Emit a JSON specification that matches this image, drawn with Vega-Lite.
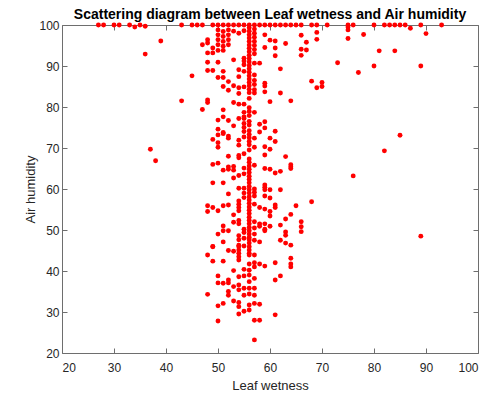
{
  "$schema": "https://vega.github.io/schema/vega-lite/v6.json",
  "autosize": "none",
  "width": 416,
  "height": 328,
  "padding": {"left": 62, "top": 25, "right": 18, "bottom": 45},
  "background": "white",
  "title": {"text": "Scattering diagram between Leaf wetness and Air humidity", "font": "Liberation Sans", "fontSize": 14, "fontWeight": "bold", "color": "#000000", "offset": -3, "anchor": "middle"},
  "datasets": {
    "pts": [
      {"x":27,"y":100},{"x":28,"y":100},{"x":30,"y":100},{"x":31,"y":100},{"x":33,"y":100},{"x":34,"y":99.5},{"x":35,"y":100},{"x":36,"y":99.7},{"x":36,"y":92.9},
      {"x":37,"y":69.7},{"x":38,"y":66.9},{"x":39,"y":96.1},{"x":43,"y":100},{"x":43,"y":81.5},{"x":45,"y":100},{"x":45,"y":87.6},{"x":46,"y":100},
      {"x":47,"y":100},{"x":47,"y":95.2},{"x":47,"y":79.4},
      {"x":48,"y":96.4},{"x":48,"y":95.6},{"x":48,"y":93.2},{"x":48,"y":90.9},{"x":48,"y":88.9},{"x":48,"y":81.7},{"x":48,"y":81.1},{"x":48,"y":55.9},{"x":48,"y":54.5},{"x":48,"y":43.9},{"x":48,"y":34.3},
      {"x":49,"y":100},{"x":49,"y":94.4},{"x":49,"y":93.2},{"x":49,"y":88.9},{"x":49,"y":72.1},{"x":49,"y":66.0},{"x":49,"y":61.5},{"x":49,"y":55.5},{"x":49,"y":46.0},{"x":49,"y":45.9},{"x":49,"y":42.4},
      {"x":50,"y":100},{"x":50,"y":98.8},{"x":50,"y":97.6},{"x":50,"y":96.4},{"x":50,"y":95.2},{"x":50,"y":93.8},{"x":50,"y":90.9},{"x":50,"y":87.2},{"x":50,"y":76.8},{"x":50,"y":74.6},{"x":50,"y":73.2},{"x":50,"y":71.3},{"x":50,"y":70.2},{"x":50,"y":66.3},{"x":50,"y":54.7},{"x":50,"y":49.0},{"x":50,"y":38.8},{"x":50,"y":37.1},{"x":50,"y":31.5},{"x":50,"y":27.8},
      {"x":51,"y":100},{"x":51,"y":98.4},{"x":51,"y":97.2},{"x":51,"y":96.0},{"x":51,"y":94.8},{"x":51,"y":93.8},{"x":51,"y":88.7},{"x":51,"y":87.2},{"x":51,"y":85.0},{"x":51,"y":79.3},{"x":51,"y":77.6},{"x":51,"y":73.8},{"x":51,"y":73.5},{"x":51,"y":64.6},{"x":51,"y":61.5},{"x":51,"y":55.9},{"x":51,"y":51.0},{"x":51,"y":49.8},{"x":51,"y":47.1},{"x":51,"y":42.4},{"x":51,"y":37.0},{"x":51,"y":32.1},
      {"x":52,"y":100},{"x":52,"y":98.8},{"x":52,"y":97.6},{"x":52,"y":96.4},{"x":52,"y":95.2},{"x":52,"y":86.2},{"x":52,"y":84.1},{"x":52,"y":76.7},{"x":52,"y":72.9},{"x":52,"y":72.4},{"x":52,"y":68.0},{"x":52,"y":65.4},{"x":52,"y":64.8},{"x":52,"y":58.8},{"x":52,"y":56.1},{"x":52,"y":49.8},{"x":52,"y":45.0},{"x":52,"y":37.8},{"x":52,"y":37.1},{"x":52,"y":35.0},{"x":52,"y":34.1},
      {"x":53,"y":100},{"x":53,"y":98.5},{"x":53,"y":91.5},{"x":53,"y":85.2},{"x":53,"y":81.1},{"x":53,"y":75.4},{"x":53,"y":65.5},{"x":53,"y":64.6},{"x":53,"y":62.7},{"x":53,"y":53.7},{"x":53,"y":51.9},{"x":53,"y":44.8},{"x":53,"y":40.1},{"x":53,"y":36.2},{"x":53,"y":32.7},
      {"x":54,"y":100},{"x":54,"y":98.0},{"x":54,"y":89.1},{"x":54,"y":87.4},{"x":54,"y":84.7},{"x":54,"y":83.3},{"x":54,"y":80.7},{"x":54,"y":77.2},{"x":54,"y":71.9},{"x":54,"y":70.7},{"x":54,"y":68.2},{"x":54,"y":67.6},{"x":54,"y":63.3},{"x":54,"y":60.2},{"x":54,"y":57.1},{"x":54,"y":56.3},{"x":54,"y":55.5},{"x":54,"y":54.7},{"x":54,"y":52.3},{"x":54,"y":51.5},{"x":54,"y":48.6},{"x":54,"y":47.6},{"x":54,"y":46.3},{"x":54,"y":45.9},{"x":54,"y":45.1},{"x":54,"y":44.3},{"x":54,"y":43.5},{"x":54,"y":42.7},{"x":54,"y":38.6},{"x":54,"y":36.6},{"x":54,"y":35.4},{"x":54,"y":32.3},{"x":54,"y":31.3},{"x":54,"y":29.5},
      {"x":55,"y":100},{"x":55,"y":98.6},{"x":55,"y":91.9},{"x":55,"y":91.2},{"x":55,"y":90.3},{"x":55,"y":88.7},{"x":55,"y":84.9},{"x":55,"y":80.7},{"x":55,"y":78.7},{"x":55,"y":77.6},{"x":55,"y":77.2},{"x":55,"y":76.0},{"x":55,"y":75.0},{"x":55,"y":74.0},{"x":55,"y":72.7},{"x":55,"y":68.6},{"x":55,"y":65.1},{"x":55,"y":63.7},{"x":55,"y":60.2},{"x":55,"y":59.0},{"x":55,"y":57.9},{"x":55,"y":50.2},{"x":55,"y":49.4},{"x":55,"y":48.0},{"x":55,"y":46.1},{"x":55,"y":40.4},{"x":55,"y":38.8},{"x":55,"y":35.8},{"x":55,"y":34.1},{"x":55,"y":30.2},
      {"x":56,"y":100},{"x":56,"y":99.3},{"x":56,"y":98.5},{"x":56,"y":97.6},{"x":56,"y":96.8},{"x":56,"y":96.0},{"x":56,"y":95.1},{"x":56,"y":94.3},{"x":56,"y":93.5},{"x":56,"y":92.6},{"x":56,"y":91.8},{"x":56,"y":91.0},{"x":56,"y":90.1},{"x":56,"y":89.3},{"x":56,"y":88.5},{"x":56,"y":87.6},{"x":56,"y":86.8},{"x":56,"y":86.0},{"x":56,"y":85.2},{"x":56,"y":84.3},{"x":56,"y":83.5},{"x":56,"y":82.1},{"x":56,"y":79.8},{"x":56,"y":78.9},{"x":56,"y":77.9},{"x":56,"y":76.5},{"x":56,"y":75.6},{"x":56,"y":74.2},{"x":56,"y":73.3},{"x":56,"y":72.5},{"x":56,"y":71.6},{"x":56,"y":70.8},{"x":56,"y":69.5},{"x":56,"y":67.3},{"x":56,"y":66.5},{"x":56,"y":65.6},{"x":56,"y":64.8},{"x":56,"y":64.0},{"x":56,"y":63.1},{"x":56,"y":62.3},{"x":56,"y":61.5},{"x":56,"y":60.6},{"x":56,"y":59.8},{"x":56,"y":59.0},{"x":56,"y":58.1},{"x":56,"y":57.3},{"x":56,"y":56.5},{"x":56,"y":55.6},{"x":56,"y":54.8},{"x":56,"y":54.0},{"x":56,"y":53.1},{"x":56,"y":52.3},{"x":56,"y":51.5},{"x":56,"y":50.6},{"x":56,"y":49.8},{"x":56,"y":49.0},{"x":56,"y":48.2},{"x":56,"y":47.6},{"x":56,"y":46.8},{"x":56,"y":45.9},{"x":56,"y":45.1},{"x":56,"y":44.3},{"x":56,"y":43.9},{"x":56,"y":41.7},{"x":56,"y":40.2},{"x":56,"y":39.0},{"x":56,"y":37.4},{"x":56,"y":35.8},{"x":56,"y":34.4},{"x":56,"y":31.7},{"x":56,"y":30.5},
      {"x":57,"y":100},{"x":57,"y":99.0},{"x":57,"y":98.0},{"x":57,"y":97.0},{"x":57,"y":96.0},{"x":57,"y":95.0},{"x":57,"y":94.0},{"x":57,"y":93.0},{"x":57,"y":90.7},{"x":57,"y":87.8},{"x":57,"y":86.5},{"x":57,"y":85.5},{"x":57,"y":84.2},{"x":57,"y":83.4},{"x":57,"y":78.7},{"x":57,"y":72.4},{"x":57,"y":70.2},{"x":57,"y":65.8},{"x":57,"y":60.0},{"x":57,"y":59.2},{"x":57,"y":58.3},{"x":57,"y":56.3},{"x":57,"y":52.0},{"x":57,"y":50.5},{"x":57,"y":49.0},{"x":57,"y":47.5},{"x":57,"y":43.9},{"x":57,"y":42.0},{"x":57,"y":41.0},{"x":57,"y":38.2},{"x":57,"y":35.8},{"x":57,"y":34.1},{"x":57,"y":32.1},{"x":57,"y":28.0},{"x":57,"y":23.2},
      {"x":58,"y":100},{"x":58,"y":90.7},{"x":58,"y":75.8},{"x":58,"y":73.9},{"x":58,"y":55.5},{"x":58,"y":51.5},{"x":58,"y":50.9},{"x":58,"y":47.1},{"x":58,"y":41.7},{"x":58,"y":31.9},{"x":58,"y":28.0},
      {"x":59,"y":100},{"x":59,"y":97.6},{"x":59,"y":94.5},{"x":59,"y":85.8},{"x":59,"y":85.1},{"x":59,"y":83.7},{"x":59,"y":76.4},{"x":59,"y":74.9},{"x":59,"y":70.3},{"x":59,"y":68.3},{"x":59,"y":65.0},{"x":59,"y":61.0},{"x":59,"y":60.4},{"x":59,"y":59.8},{"x":59,"y":58.3},{"x":59,"y":55.1},{"x":59,"y":51.5},{"x":59,"y":50.2},{"x":59,"y":49.8},{"x":59,"y":41.2},
      {"x":60,"y":100},{"x":60,"y":96.3},{"x":60,"y":81.3},{"x":60,"y":72.4},{"x":60,"y":69.7},{"x":60,"y":64.8},{"x":60,"y":59.8},{"x":60,"y":57.8},{"x":60,"y":54.5},{"x":60,"y":53.4},{"x":60,"y":50.9},
      {"x":61,"y":100},{"x":61,"y":96.1},{"x":61,"y":94.4},{"x":61,"y":92.5},{"x":61,"y":74.1},{"x":61,"y":71.6},{"x":61,"y":63.9},{"x":61,"y":56.1},{"x":61,"y":55.5},{"x":61,"y":42.0},{"x":61,"y":37.8},{"x":61,"y":29.3},
      {"x":62,"y":100},{"x":62,"y":89.3},{"x":62,"y":83.4},{"x":62,"y":64.3},{"x":62,"y":59.8},{"x":62,"y":51.2},{"x":62,"y":47.5},{"x":62,"y":38.8},
      {"x":63,"y":100},{"x":63,"y":95.5},{"x":63,"y":67.9},{"x":63,"y":52.7},{"x":63,"y":49.5},{"x":63,"y":48.7},{"x":63,"y":46.8},
      {"x":64,"y":100},{"x":64,"y":81.5},{"x":64,"y":65.9},{"x":64,"y":65.4},{"x":64,"y":65.0},{"x":64,"y":53.8},{"x":64,"y":46.3},{"x":64,"y":43.1},{"x":64,"y":41.7},{"x":64,"y":41.0},
      {"x":65,"y":100},{"x":65,"y":55.9},
      {"x":66,"y":100},{"x":66,"y":97.5},{"x":66,"y":94.1},{"x":66,"y":92.6},{"x":66,"y":52.0},{"x":66,"y":50.8},{"x":66,"y":49.6},
      {"x":67,"y":95.8},{"x":67,"y":93.9},
      {"x":68,"y":100},{"x":68,"y":86.3},{"x":68,"y":56.9},
      {"x":69,"y":100},{"x":69,"y":98.2},{"x":69,"y":96.5},{"x":69,"y":84.7},
      {"x":70,"y":86.0},{"x":70,"y":85.0},{"x":71,"y":100},{"x":73,"y":90.8},
      {"x":75,"y":100},{"x":75,"y":99.5},{"x":75,"y":98.8},{"x":75,"y":96.7},
      {"x":76,"y":100},{"x":76,"y":63.2},{"x":77,"y":88.4},{"x":78,"y":97.7},
      {"x":80,"y":100},{"x":80,"y":90.0},{"x":81,"y":93.7},{"x":82,"y":100},{"x":82,"y":69.3},{"x":83,"y":100},
      {"x":84,"y":100},{"x":84,"y":93.7},{"x":85,"y":100},{"x":85,"y":73.1},{"x":86,"y":100},{"x":87,"y":99.2},
      {"x":89,"y":100},{"x":89,"y":90.0},{"x":89,"y":48.5},{"x":90,"y":97.9},{"x":93,"y":100}
    ]
  },
  "data": {"name": "pts"},
  "layer": [
    {
      "mark": {"type": "circle", "size": 24, "color": "#FF0000", "opacity": 1},
      "encoding": {
        "x": {"field": "x", "type": "quantitative", "scale": {"domain": [20, 100], "nice": false, "zero": false},
          "axis": {"orient": "bottom", "values": [20,30,40,50,60,70,80,90,100], "title": "Leaf wetness", "grid": false, "tickSize": -5, "labelPadding": 14, "titlePadding": 6}},
        "y": {"field": "y", "type": "quantitative", "scale": {"domain": [20, 100], "nice": false, "zero": false},
          "axis": {"orient": "left", "values": [20,30,40,50,60,70,80,90,100], "title": "Air humidity", "grid": false, "tickSize": -5, "labelPadding": 8, "titlePadding": 1}}
      }
    },
    {
      "mark": {"type": "circle", "size": 24, "opacity": 0},
      "encoding": {
        "x": {"field": "x", "type": "quantitative", "scale": {"domain": [20, 100], "nice": false, "zero": false},
          "axis": {"orient": "top", "values": [20,30,40,50,60,70,80,90,100], "title": null, "labels": false, "grid": false, "tickSize": -5}},
        "y": {"field": "y", "type": "quantitative", "scale": {"domain": [20, 100], "nice": false, "zero": false},
          "axis": {"orient": "right", "values": [20,30,40,50,60,70,80,90,100], "title": null, "labels": false, "grid": false, "tickSize": -5}}
      }
    }
  ],
  "resolve": {"axis": {"x": "independent", "y": "independent"}},
  "config": {
    "view": {"stroke": null},
    "axis": {
      "domainColor": "#6e6e6e", "tickColor": "#6e6e6e", "domainWidth": 1, "tickWidth": 1,
      "labelFont": "Liberation Sans", "labelFontSize": 12, "labelColor": "#262626",
      "titleFont": "Liberation Sans", "titleFontSize": 13, "titleFontWeight": "normal", "titleColor": "#262626"
    }
  }
}
